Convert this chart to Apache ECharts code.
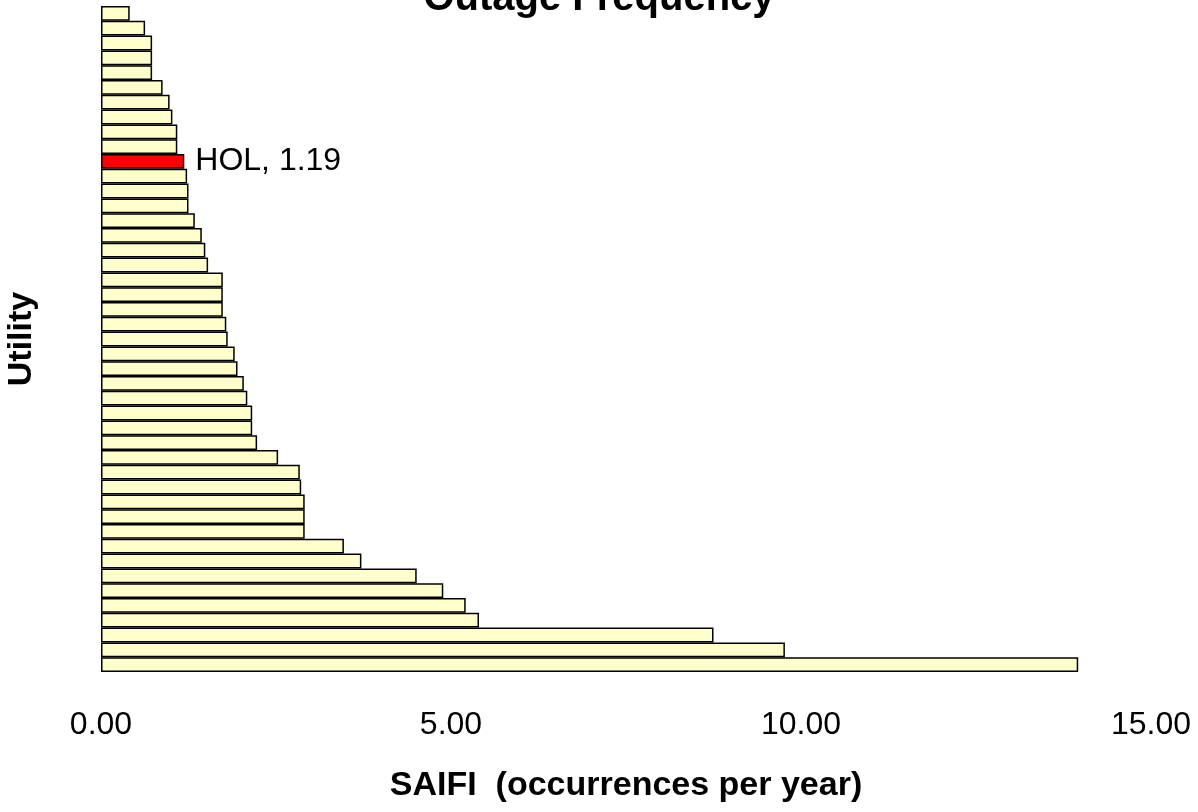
<!DOCTYPE html>
<html>
<head>
<meta charset="utf-8">
<script src="https://cdn.jsdelivr.net/npm/echarts@6/dist/echarts.min.js"></script>
<style>
html,body{margin:0;padding:0;background:#fff;}
#c{width:1198px;height:812px;}
</style>
</head>
<body>
<div id="c"></div>
<script>
const titleText = 'Outage Frequency';
const xAxisTitle = 'SAIFI  (occurrences per year)';
const yAxisTitle = 'Utility';
const highlight = 'HOL';
const utilities = [
  'U01','U02','U03','U04','U05','U06','U07','U08','U09','U10',
  'HOL','U12','U13','U14','U15','U16','U17','U18','U19','U20',
  'U21','U22','U23','U24','U25','U26','U27','U28','U29','U30',
  'U31','U32','U33','U34','U35','U36','U37','U38','U39','U40',
  'U41','U42','U43','U44','U45'
];
const saifi = [
  0.41, 0.63, 0.73, 0.73, 0.73, 0.88, 0.98, 1.02, 1.09, 1.09,
  1.19, 1.23, 1.25, 1.25, 1.34, 1.44, 1.49, 1.53, 1.74, 1.74,
  1.74, 1.79, 1.81, 1.91, 1.95, 2.04, 2.09, 2.16, 2.16, 2.23,
  2.53, 2.84, 2.86, 2.91, 2.91, 2.91, 3.47, 3.72, 4.51, 4.89,
  5.21, 5.40, 8.75, 9.77, 13.96
];
const xTicks = [0, 5, 10, 15];

const FONT = '"Liberation Sans", Arial, sans-serif';
const chart = echarts.init(document.getElementById('c'));

const barData = saifi.map((v, i) => {
  if (utilities[i] === highlight) {
    return {
      value: v,
      itemStyle: { color: '#FF0000' },
      label: {
        show: true,
        position: 'right',
        distance: 11,
        formatter: p => utilities[p.dataIndex] + ', ' + v.toFixed(2),
        color: '#000',
        fontSize: 32,
        fontFamily: FONT
      }
    };
  }
  return v;
});

chart.setOption({
  animation: false,
  backgroundColor: '#ffffff',
  title: {
    text: titleText,
    left: 'center',
    top: -21,
    padding: 0,
    textStyle: { fontSize: 40, fontWeight: 'bold', color: '#000', fontFamily: FONT }
  },
  grid: { left: 101, right: 47, top: 6, bottom: 140, containLabel: false, outerBoundsMode: 'none' },
  xAxis: {
    type: 'value',
    min: xTicks[0],
    max: xTicks[xTicks.length - 1],
    interval: xTicks[1] - xTicks[0],
    axisLine: { show: false },
    axisTick: { show: false },
    splitLine: { show: false },
    axisLabel: {
      formatter: v => v.toFixed(2),
      fontSize: 32,
      color: '#000',
      fontFamily: FONT,
      margin: 37
    },
    name: xAxisTitle,
    nameLocation: 'middle',
    nameGap: 97,
    nameTextStyle: { fontSize: 34, fontWeight: 'bold', color: '#000', fontFamily: FONT }
  },
  yAxis: {
    type: 'category',
    data: utilities,
    inverse: true,
    axisLine: { show: false },
    axisTick: { show: false },
    axisLabel: { show: false },
    splitLine: { show: false },
    name: yAxisTitle,
    nameLocation: 'middle',
    nameGap: 62,
    nameRotate: 90,
    nameTextStyle: { fontSize: 34, fontWeight: 'bold', color: '#000', fontFamily: FONT }
  },
  series: [{
    type: 'bar',
    data: barData,
    barCategoryGap: '0%',
    itemStyle: { color: '#FFFFCC', borderColor: '#000', borderWidth: 1.5 },
    emphasis: { disabled: true }
  }]
});
</script>
</body>
</html>
